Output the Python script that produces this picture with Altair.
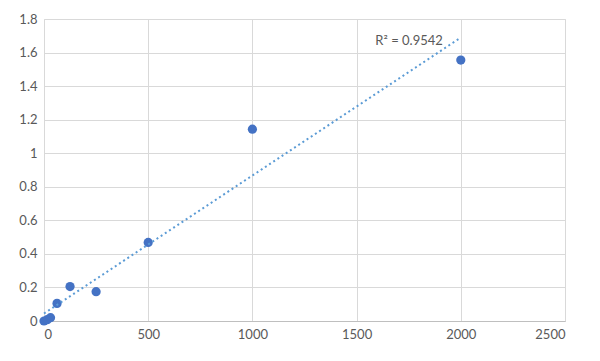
import altair as alt
import pandas as pd

conc = [0, 15.6, 31.25, 62.5, 125, 250, 500, 1000, 2000]
od = [0.0, 0.008, 0.02, 0.105, 0.205, 0.175, 0.468, 1.143, 1.555]
r2_label = "R² = 0.9542"
x_ticks = [0, 500, 1000, 1500, 2000, 2500]
y_ticks = [0, 0.2, 0.4, 0.6, 0.8, 1, 1.2, 1.4, 1.6, 1.8]

df = pd.DataFrame({"x": conc, "y": od})

W, H = 521, 302
xs = alt.Scale(domain=[0, 2500], nice=False, zero=True)
ys = alt.Scale(domain=[0, 1.8], nice=False)

FONT = "Lato"
x_axis = alt.Axis(title=None, values=x_ticks, format="d",
                  grid=True, gridColor="#D9D9D9", ticks=False, labelOverlap=False,
                  domainColor="#BFBFBF", labelColor="#595959", labelFontSize=13,
                  labelFont=FONT, labelPadding=7)
y_axis = alt.Axis(title=None, values=y_ticks,
                  format=".1~f", grid=True, gridColor="#D9D9D9", ticks=False,
                  labelOverlap=False, domain=False, labelColor="#595959",
                  labelFontSize=13, labelFont=FONT, labelPadding=7)
x_enc = alt.X("x:Q", scale=xs, axis=x_axis)
y_enc = alt.Y("y:Q", scale=ys, axis=y_axis)

base = alt.Chart(df)

pts = base.mark_circle(size=85, color="#4472C4", opacity=1).encode(x=x_enc, y=y_enc)

trend = base.transform_regression("x", "y", extent=[0, 2000]).mark_line(
    color="#5B9BD5", strokeDash=[2, 3], strokeWidth=2
).encode(x=x_enc, y=y_enc)

lab = alt.Chart(pd.DataFrame({"x": [1590], "y": [1.67], "t": [r2_label]})).mark_text(
    align="left", baseline="middle", fontSize=13, font=FONT, color="#595959"
).encode(x=x_enc, y=y_enc, text="t:N")

chart = alt.layer(pts, trend, lab).properties(
    width=W, height=H,
    autosize=alt.AutoSizeParams(type="none"),
    padding={"left": 36, "top": 11, "right": 20, "bottom": 30},
).configure_view(stroke=None).configure(background="white")

chart.save("out.html", embed_options={"renderer": "svg", "actions": False})
